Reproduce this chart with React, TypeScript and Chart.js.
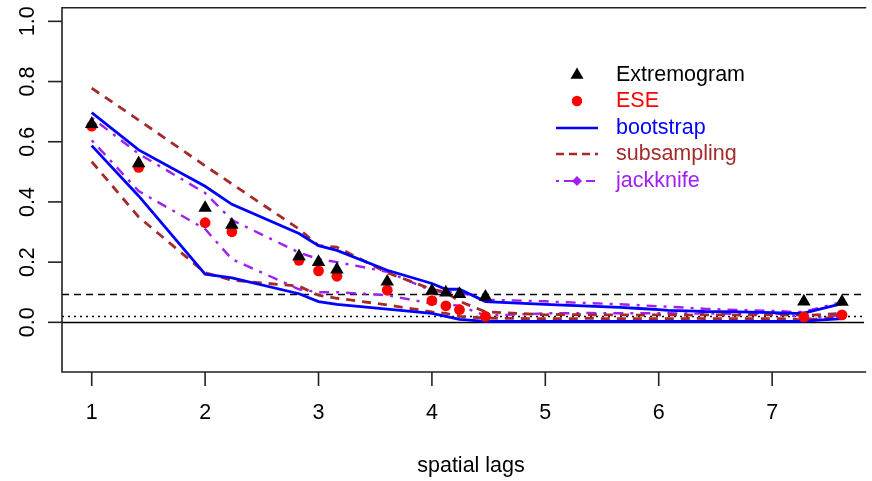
import React, { useEffect, useRef } from "react";
import { Chart, registerables } from "chart.js";

Chart.register(...registerables);

// spatial lags (distances on the grid)
const lags = [1, 1.414, 2, 2.236, 2.828, 3, 3.162, 3.606, 4, 4.123, 4.243, 4.472, 5, 5.099, 5.385, 5.657, 5.831, 6, 6.083, 6.325, 6.403, 6.708, 7, 7.071, 7.211, 7.28, 7.616];

// lags where the point estimates are visible
const pointLags = [1, 1.414, 2, 2.236, 2.828, 3, 3.162, 3.606, 4, 4.123, 4.243, 4.472, 7.28, 7.616];
const extremogram = [0.659, 0.528, 0.38, 0.324, 0.219, 0.2, 0.175, 0.135, 0.105, 0.099, 0.094, 0.085, 0.069, 0.068];
const ese = [0.652, 0.515, 0.331, 0.301, 0.206, 0.171, 0.153, 0.107, 0.072, 0.055, 0.042, 0.02, 0.018, 0.025];

const bootUpper = [0.697, 0.573, 0.452, 0.392, 0.295, 0.255, 0.239, 0.173, 0.129, 0.11, 0.11, 0.069, 0.06, 0.058, 0.054, 0.05, 0.046, 0.042, 0.04, 0.037, 0.036, 0.035, 0.032, 0.031, 0.03, 0.031, 0.062];
const bootLower = [0.587, 0.42, 0.16, 0.148, 0.095, 0.069, 0.06, 0.044, 0.03, 0.02, 0.01, 0.003, 0.003, 0.003, 0.003, 0.003, 0.003, 0.003, 0.003, 0.003, 0.003, 0.003, 0.003, 0.003, 0.003, 0.004, 0.012];
const subUpper = [0.778, 0.672, 0.52, 0.46, 0.31, 0.255, 0.25, 0.165, 0.11, 0.1, 0.07, 0.035, 0.025, 0.026, 0.025, 0.025, 0.024, 0.025, 0.025, 0.024, 0.025, 0.024, 0.025, 0.024, 0.025, 0.022, 0.03];
const subLower = [0.534, 0.35, 0.165, 0.14, 0.12, 0.09, 0.08, 0.058, 0.035, 0.03, 0.02, 0.014, 0.012, 0.012, 0.013, 0.012, 0.012, 0.012, 0.012, 0.013, 0.012, 0.012, 0.012, 0.012, 0.01, 0.006, 0.02];
const jackUpper = [0.68, 0.56, 0.43, 0.34, 0.232, 0.21, 0.2, 0.168, 0.105, 0.1, 0.1, 0.075, 0.07, 0.068, 0.064, 0.06, 0.057, 0.053, 0.052, 0.047, 0.045, 0.041, 0.038, 0.037, 0.034, 0.035, 0.068];
const jackLower = [0.605, 0.436, 0.31, 0.21, 0.11, 0.1, 0.1, 0.09, 0.062, 0.06, 0.055, 0.022, 0.03, 0.03, 0.031, 0.03, 0.03, 0.03, 0.03, 0.029, 0.03, 0.028, 0.03, 0.028, 0.02, 0.01, 0.025];

// horizontal reference lines
const hSolid = 0;
const hDashed = 0.095;
const hDotted = 0.021;

// axis ticks
const xTicks = [1, 2, 3, 4, 5, 6, 7];
const yTicks = [0, 0.2, 0.4, 0.6, 0.8, 1.0];
const yTickLabels = ["0.0", "0.2", "0.4", "0.6", "0.8", "1.0"];
const xTitle = "spatial lags";

const legendLabels = ["Extremogram", "ESE", "bootstrap", "subsampling", "jackknife"];

const BLUE = "#0000FF";
const BROWN = "#A52A2A";
const PURPLE = "#A020F0";
const RED = "#FF0000";
const FONT = '21.5px "Liberation Sans", Arial, sans-serif';

const xy = (xs: number[], ys: number[]) => xs.map((x, i) => ({ x, y: ys[i] }));

const rPlot = {
  id: "rplot",
  beforeDatasetsDraw(chart: any) {
    const { ctx, chartArea: a, scales } = chart;
    const y = scales.y;
    ctx.save();
    ctx.beginPath();
    ctx.rect(a.left, a.top, a.right - a.left, a.bottom - a.top);
    ctx.clip();
    const refs: [number, number[], number][] = [
      [hSolid, [], 1.4],
      [hDashed, [7, 5], 1.4],
      [hDotted, [2, 4], 1.4],
    ];
    for (const [v, dash, w] of refs) {
      const py = Math.round(y.getPixelForValue(v)) + 0.5;
      ctx.strokeStyle = "#000";
      ctx.lineWidth = w;
      ctx.setLineDash(dash);
      ctx.beginPath();
      ctx.moveTo(a.left, py);
      ctx.lineTo(a.right, py);
      ctx.stroke();
    }
    ctx.restore();
  },
  afterDraw(chart: any) {
    const { ctx, chartArea: a, scales } = chart;
    const x = scales.x;
    const y = scales.y;
    ctx.save();
    ctx.strokeStyle = "#222";
    ctx.lineWidth = 1.6;
    ctx.setLineDash([]);
    // box (left, top, bottom)
    ctx.beginPath();
    ctx.moveTo(a.right + 2, a.top);
    ctx.lineTo(a.left, a.top);
    ctx.lineTo(a.left, a.bottom);
    ctx.lineTo(a.right + 2, a.bottom);
    ctx.stroke();
    // y ticks
    ctx.fillStyle = "#000";
    ctx.font = FONT;
    yTicks.forEach((v, i) => {
      const py = y.getPixelForValue(v);
      ctx.beginPath();
      ctx.moveTo(a.left - 14, py);
      ctx.lineTo(a.left, py);
      ctx.stroke();
      ctx.save();
      ctx.translate(34, py);
      ctx.rotate(-Math.PI / 2);
      ctx.textAlign = "center";
      ctx.textBaseline = "alphabetic";
      ctx.fillText(yTickLabels[i], 0, 0);
      ctx.restore();
    });
    // x ticks
    xTicks.forEach((v) => {
      const px = x.getPixelForValue(v);
      ctx.beginPath();
      ctx.moveTo(px, a.bottom);
      ctx.lineTo(px, a.bottom + 14);
      ctx.stroke();
      ctx.textAlign = "center";
      ctx.textBaseline = "alphabetic";
      ctx.fillText(String(v), px, 419);
    });
    ctx.textAlign = "center";
    ctx.fillText(xTitle, 471, 472);

    // legend
    const lx = 577;
    const rows = [75, 101, 128, 154, 181];
    const colors = ["#000", RED, BLUE, BROWN, PURPLE];
    ctx.textAlign = "left";
    ctx.textBaseline = "middle";
    legendLabels.forEach((lab, i) => {
      ctx.fillStyle = colors[i];
      ctx.fillText(lab, 616, rows[i]);
    });
    // triangle
    const r = 7.5;
    ctx.fillStyle = "#000";
    ctx.beginPath();
    ctx.moveTo(lx, rows[0] - r);
    ctx.lineTo(lx + r * 0.866, rows[0] + r * 0.5);
    ctx.lineTo(lx - r * 0.866, rows[0] + r * 0.5);
    ctx.closePath();
    ctx.fill();
    // circle
    ctx.fillStyle = RED;
    ctx.beginPath();
    ctx.arc(lx, rows[1], 5.2, 0, Math.PI * 2);
    ctx.fill();
    // lines
    const seg = (yy: number, color: string, dash: number[], w: number) => {
      ctx.strokeStyle = color;
      ctx.lineWidth = w;
      ctx.setLineDash(dash);
      ctx.beginPath();
      ctx.moveTo(556, yy);
      ctx.lineTo(598, yy);
      ctx.stroke();
    };
    seg(rows[2], BLUE, [], 2.4);
    seg(rows[3], BROWN, [8, 5], 2.4);
    seg(rows[4], PURPLE, [3, 5, 9, 5], 2.2);
    ctx.setLineDash([]);
    ctx.fillStyle = PURPLE;
    ctx.beginPath();
    ctx.moveTo(lx, rows[4] - 5);
    ctx.lineTo(lx + 5, rows[4]);
    ctx.lineTo(lx, rows[4] + 5);
    ctx.lineTo(lx - 5, rows[4]);
    ctx.closePath();
    ctx.fill();
    ctx.restore();
  },
};

const lineDs = (label: string, ys: number[], color: string, dash: number[], width: number) => ({
  type: "line" as const,
  label,
  data: xy(lags, ys),
  borderColor: color,
  backgroundColor: color,
  borderWidth: width,
  borderDash: dash,
  pointRadius: 0,
  fill: false,
  tension: 0,
});

export default function App() {
  const ref = useRef<HTMLCanvasElement>(null);
  useEffect(() => {
    document.body.style.margin = "0";
    const canvas = ref.current!;
    const chart = new Chart(canvas, {
      type: "scatter",
      data: {
        datasets: [
          {
            label: "Extremogram",
            data: xy(pointLags, extremogram),
            pointStyle: "triangle",
            pointRadius: 7.8,
            backgroundColor: "#000",
            borderColor: "#000",
            borderWidth: 0,
          },
          {
            label: "ESE",
            data: xy(pointLags, ese),
            pointStyle: "circle",
            pointRadius: 5.4,
            backgroundColor: RED,
            borderColor: RED,
            borderWidth: 0,
          },
          lineDs("bootstrap upper", bootUpper, BLUE, [], 2.8),
          lineDs("bootstrap lower", bootLower, BLUE, [], 2.8),
          lineDs("subsampling upper", subUpper, BROWN, [9, 7], 2.8),
          lineDs("subsampling lower", subLower, BROWN, [9, 7], 2.8),
          lineDs("jackknife upper", jackUpper, PURPLE, [3, 7, 10, 7], 2.4),
          lineDs("jackknife lower", jackLower, PURPLE, [3, 7, 10, 7], 2.4),
        ] as any,
      },
      options: {
        responsive: false,
        animation: false,
        layout: { padding: { left: 62, top: 4, right: 0, bottom: 109 } },
        plugins: { legend: { display: false }, tooltip: { enabled: false } },
        scales: {
          x: { type: "linear", min: 0.738, max: 7.812, display: false },
          y: { type: "linear", min: -0.165, max: 1.045, display: false },
        },
      },
      plugins: [rPlot],
    });
    return () => chart.destroy();
  }, []);
  return <canvas ref={ref} width={872} height={481} style={{ display: "block" }} />;
}
